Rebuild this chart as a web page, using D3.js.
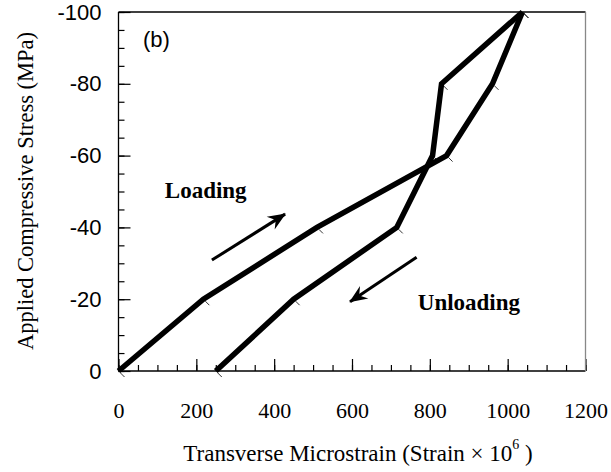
<!DOCTYPE html>
<html>
<head>
<meta charset="utf-8">
<script src="https://cdn.jsdelivr.net/npm/d3@7"></script>
<style>
  body { margin: 0; background: #fff; }
  .axis path { display: none; }
  .axis line { stroke: #000; stroke-width: 1.2; }
  .ylab text { font-family: "Liberation Sans", Arial, sans-serif; font-size: 22px; fill: #000; }
  .xlab text { font-family: "Liberation Serif", "Times New Roman", serif; font-size: 22px; fill: #000; }
  .line { fill: none; stroke: #000; stroke-width: 5.5; stroke-linejoin: miter; }
</style>
</head>
<body>
<script>
// data
const loadStrain   = [0, 218, 510, 843, 961, 1038];
const loadStress   = [0, -20, -40, -60, -80, -100];
const unloadStrain = [1038, 830, 807, 715, 450, 250];
const unloadStress = [-100, -80, -60, -40, -20, 0];
const xTicks = [0, 200, 400, 600, 800, 1000, 1200];
const yTicks = [0, -20, -40, -60, -80, -100];

const w = 611, h = 472;

const xScale = d3.scaleLinear().domain([0, 1200]).range([118.5, 585.5]);
const yScale = d3.scaleLinear().domain([0, -100]).range([371, 12]);

const svg = d3.select("body").append("svg")
    .attr("width", w)
    .attr("height", h);

// minor ticks
svg.append("g")
   .attr("class", "axis")
   .attr("transform", "translate(0," + yScale(0) + ")")
   .call(d3.axisBottom(xScale).tickValues(d3.range(0, 1201, 50)).tickSize(-6).tickFormat(""));
svg.append("g")
   .attr("class", "axis")
   .attr("transform", "translate(" + xScale(0) + ",0)")
   .call(d3.axisLeft(yScale).tickValues(d3.range(0, -101, -5)).tickSize(-6).tickFormat(""));

// major ticks + labels
svg.append("g")
   .attr("class", "axis xlab")
   .attr("transform", "translate(0," + yScale(0) + ")")
   .call(d3.axisBottom(xScale).tickValues(xTicks).tickSize(-12).tickPadding(31).tickFormat(d3.format("d")));
svg.append("g")
   .attr("class", "axis ylab")
   .attr("transform", "translate(" + xScale(0) + ",0)")
   .call(d3.axisLeft(yScale).tickValues(yTicks).tickSize(-12).tickPadding(17).tickFormat(d => d === 0 ? "0" : "-" + Math.abs(d)));

// frame
const [x0, x1] = xScale.range();
const [yb, yt] = yScale.range();
svg.append("line").attr("x1", x0).attr("x2", x0).attr("y1", yt).attr("y2", yb).attr("stroke", "#000").attr("stroke-width", 1.3);
svg.append("line").attr("x1", x0).attr("x2", x1).attr("y1", yb).attr("y2", yb).attr("stroke", "#000").attr("stroke-width", 1.3);
svg.append("line").attr("x1", x0).attr("x2", x1).attr("y1", yt).attr("y2", yt).attr("stroke", "#000").attr("stroke-width", 1.3);
svg.append("line").attr("x1", x1).attr("x2", x1).attr("y1", yt).attr("y2", yb).attr("stroke", "#888").attr("stroke-width", 1.3);

// lines
const line = d3.line().x(d => xScale(d[0])).y(d => yScale(d[1]));
const loadData = loadStrain.map((s, i) => [s, loadStress[i]]);
const unloadData = unloadStrain.map((s, i) => [s, unloadStress[i]]);

[loadData, unloadData].forEach(data => {
    svg.append("path").datum(data).attr("class", "line").attr("d", line);
    // little point markers
    svg.selectAll(null).data(data).enter().append("line")
       .attr("x1", d => xScale(d[0]) + 2).attr("y1", d => yScale(d[1]) + 2)
       .attr("x2", d => xScale(d[0]) + 6).attr("y2", d => yScale(d[1]) + 6)
       .attr("stroke", "#000").attr("stroke-width", 0.8);
});

// arrows
svg.append("defs").append("marker")
   .attr("id", "head")
   .attr("markerUnits", "userSpaceOnUse")
   .attr("viewBox", "-18 -9 20 18")
   .attr("markerWidth", 20).attr("markerHeight", 18)
   .attr("refX", 0).attr("refY", 0)
   .attr("orient", "auto")
   .append("path")
   .attr("d", "M1,0 L-17,-7.5 L-11,0 L-17,7.5 Z")
   .attr("fill", "#000");

const arrows = [
    [[240, -30.9], [428, -43.7]],
    [[766, -31.7], [595, -19.3]]
];
arrows.forEach(a => {
    svg.append("line")
       .attr("x1", xScale(a[0][0])).attr("y1", yScale(a[0][1]))
       .attr("x2", xScale(a[1][0])).attr("y2", yScale(a[1][1]))
       .attr("stroke", "#000").attr("stroke-width", 3)
       .attr("marker-end", "url(#head)");
});

// annotations
svg.append("text")
   .attr("x", xScale(63)).attr("y", yScale(-90.3))
   .style("font-family", "Liberation Sans, Arial, sans-serif").style("font-size", "22px")
   .text("(b)");
svg.append("text")
   .attr("x", xScale(119)).attr("y", yScale(-48.2))
   .style("font-family", "Liberation Serif, Times New Roman, serif").style("font-size", "23px").style("font-weight", "bold")
   .text("Loading");
svg.append("text")
   .attr("x", xScale(769)).attr("y", yScale(-17))
   .style("font-family", "Liberation Serif, Times New Roman, serif").style("font-size", "23px").style("font-weight", "bold")
   .text("Unloading");

// axis titles
const xt = svg.append("text")
   .attr("x", 358).attr("y", 461)
   .attr("text-anchor", "middle")
   .style("font-family", "Liberation Serif, Times New Roman, serif").style("font-size", "23px");
xt.append("tspan").text("Transverse Microstrain (Strain \u00d7 10");
xt.append("tspan").attr("dy", -12).style("font-size", "14px").text("6");
xt.append("tspan").attr("dy", 12).text(" )");

svg.append("text")
   .attr("transform", "translate(33," + 191 + ") rotate(-90)")
   .attr("text-anchor", "middle")
   .style("font-family", "Liberation Serif, Times New Roman, serif").style("font-size", "22.5px")
   .text("Applied Compressive Stress (MPa)");
</script>
</body>
</html>
